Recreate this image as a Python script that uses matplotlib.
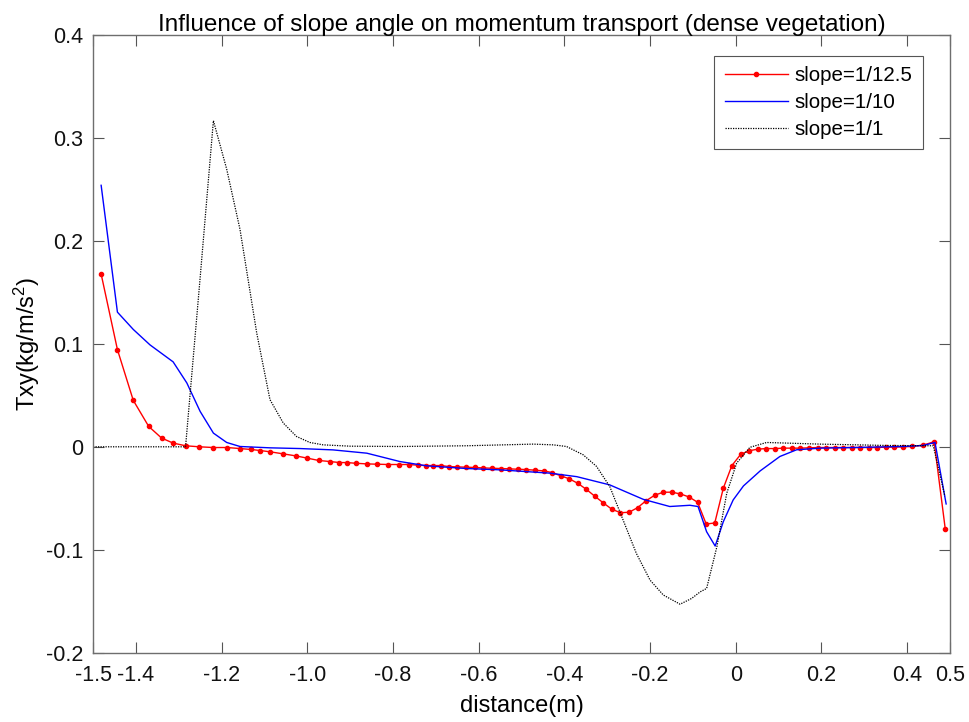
import matplotlib
matplotlib.use('Agg')
import matplotlib.pyplot as plt

plt.rcParams['font.family'] = ['Liberation Sans', 'DejaVu Sans']
plt.rcParams['mathtext.default'] = 'regular'

# slope = 1/12.5 (red, dots)
red_x = [-1.481, -1.443, -1.406, -1.370, -1.340, -1.313, -1.284, -1.252, -1.219, -1.187,
         -1.157, -1.131, -1.110, -1.086, -1.057, -1.027, -1.000,
         -0.973, -0.947, -0.925, -0.908, -0.887, -0.861, -0.837, -0.811, -0.786, -0.762,
         -0.741, -0.723, -0.706, -0.689, -0.669, -0.650, -0.630, -0.609, -0.590, -0.570,
         -0.549, -0.529, -0.509, -0.489, -0.469, -0.448, -0.429, -0.408, -0.388, -0.369,
         -0.349, -0.329,
         -0.309, -0.289, -0.269, -0.249, -0.229, -0.210, -0.189, -0.169, -0.149, -0.129,
         -0.109, -0.089, -0.069, -0.049, -0.029, -0.009, 0.012, 0.031, 0.051,
         0.071, 0.092, 0.111, 0.131, 0.151, 0.171, 0.191, 0.211, 0.231, 0.251, 0.271,
         0.291, 0.310, 0.330, 0.350, 0.370, 0.390, 0.412, 0.438, 0.463, 0.489]
red_y = [0.1678, 0.0944, 0.0451, 0.0198, 0.0085, 0.0036, 0.001, 0.0, -0.0007, -0.0007,
         -0.0017, -0.0026, -0.0036, -0.0049, -0.0068, -0.0088, -0.011,
         -0.0133, -0.0143, -0.0153, -0.0153, -0.016, -0.0166, -0.0169, -0.0172, -0.0172, -0.0172,
         -0.0179, -0.0182, -0.0182, -0.0182, -0.0192, -0.0195, -0.0198, -0.0201, -0.0205, -0.0208,
         -0.0211, -0.0214, -0.0218, -0.0221, -0.0227, -0.0234, -0.025, -0.0282, -0.0312, -0.0354,
         -0.0412, -0.048,
         -0.0545, -0.0607, -0.064, -0.0636, -0.0591, -0.0526, -0.047, -0.0441, -0.0441, -0.0458,
         -0.0487, -0.0539, -0.075, -0.074, -0.0402, -0.0182, -0.0071, -0.0039, -0.0023,
         -0.0017, -0.0017, -0.0013, -0.0013, -0.0013, -0.001, -0.0007, -0.0007, -0.0007, -0.0007, -0.0007,
         -0.0007, -0.0007, -0.0007, -0.0003, -0.0003, 0.0, 0.0003, 0.0017, 0.0049, -0.080]

# slope = 1/10 (blue)
blue_x = [-1.481, -1.443, -1.406, -1.367, -1.313, -1.281, -1.250, -1.219, -1.188, -1.157,
          -1.087, -1.017, -0.940, -0.861, -0.784, -0.721, -0.628, -0.550, -0.434, -0.371,
          -0.294, -0.216, -0.154, -0.107, -0.088, -0.068, -0.048, -0.029, -0.006, 0.018,
          0.057, 0.103, 0.142, 0.197, 0.274, 0.390, 0.437, 0.465, 0.491]
blue_y = [0.254, 0.1308, 0.114, 0.099, 0.0825, 0.062, 0.0344, 0.0133, 0.0042, 0.0003,
          -0.001, -0.0017, -0.003, -0.0062, -0.0143, -0.0185, -0.0211, -0.0224, -0.0256, -0.029,
          -0.037, -0.051, -0.058, -0.0568, -0.058, -0.0825, -0.0964, -0.0727, -0.0516, -0.038,
          -0.0234, -0.0094, -0.0029, -0.0013, -0.0007, 0.0003, 0.0013, 0.0042, -0.0555]

# slope = 1/1 (black, dotted)
black_x = [-1.5, -1.284, -1.250, -1.219, -1.188, -1.157, -1.118, -1.087, -1.056, -1.025,
           -0.994, -0.963, -0.900, -0.784, -0.628, -0.473, -0.426, -0.395, -0.356, -0.325,
           -0.294, -0.263, -0.232, -0.200, -0.169, -0.130, -0.103, -0.083, -0.068, -0.044,
           -0.021, 0.002, 0.033, 0.072, 0.119, 0.197, 0.353, 0.461, 0.488]
black_y = [0, 0, 0.164, 0.3168, 0.2697, 0.2113, 0.1107, 0.0458, 0.0231, 0.01,
           0.0042, 0.0019, 0.0006, 0.0003, 0.001, 0.0026, 0.0019, 0.0003, -0.0078, -0.019,
           -0.0386, -0.071, -0.1035, -0.1295, -0.144, -0.1529, -0.1473, -0.1409, -0.1376, -0.097,
           -0.0451, -0.0159, -0.0005, 0.0042, 0.0036, 0.0026, 0.0013, 0.001, -0.048]

xticks = [-1.5, -1.4, -1.2, -1.0, -0.8, -0.6, -0.4, -0.2, 0, 0.2, 0.4, 0.5]
xtick_labels = ['-1.5', '-1.4', '-1.2', '-1.0', '-0.8', '-0.6', '-0.4', '-0.2', '0', '0.2', '0.4', '0.5']
yticks = [-0.2, -0.1, 0, 0.1, 0.2, 0.3, 0.4]
ytick_labels = ['-0.2', '-0.1', '0', '0.1', '0.2', '0.3', '0.4']

fig = plt.figure(figsize=(9.7, 7.22), dpi=100)
ax = fig.add_axes([93 / 970, 69.3 / 722, 857 / 970, 617.7 / 722])

ax.plot(red_x, red_y, '-', color='#ff0000', lw=1.0, marker='.', ms=6, label='slope=1/12.5')
ax.plot(blue_x, blue_y, '-', color='#0000ff', lw=1.0, label='slope=1/10')
ax.plot(black_x, black_y, color='black', lw=0.9, linestyle=(0, (1, 1)), label='slope=1/1')

ax.set_xlim(-1.5, 0.5)
ax.set_ylim(-0.2, 0.4)
ax.set_xticks(xticks)
ax.set_xticklabels(xtick_labels)
ax.set_yticks(yticks)
ax.set_yticklabels(ytick_labels)

ax.tick_params(direction='in', top=True, right=True, length=8, width=0.8,
               color='#555555', labelsize=15.5, labelcolor='#111111')
ax.tick_params(axis='x', pad=9)
ax.tick_params(axis='y', pad=7)
for s in ax.spines.values():
    s.set_color('#6e6e6e')
    s.set_linewidth(1.0)

ax.set_title('Influence of slope angle on momentum transport (dense vegetation)',
             fontsize=17.5, pad=3)
ax.set_xlabel('distance(m)', fontsize=17, labelpad=6)
ax.set_ylabel('Txy(kg/m/s$^{2}$)', fontsize=17, labelpad=3)

leg = ax.legend(loc='upper right', bbox_to_anchor=(0.968, 0.966), borderaxespad=0,
                fontsize=14.8, numpoints=1, handlelength=3.1, handletextpad=0.3,
                fancybox=False, framealpha=1, edgecolor='#555555', borderpad=0.5,
                labelspacing=0.38)
leg.get_frame().set_linewidth(0.8)

fig.savefig('out.png', dpi=100)
